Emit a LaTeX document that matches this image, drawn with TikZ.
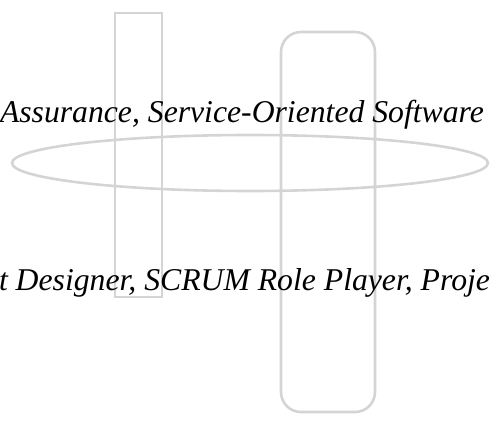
\documentclass[tikz,border=0pt]{standalone}
\usepackage{fontspec}
\setmainfont{Liberation Serif}
\usetikzlibrary{shapes.geometric}
\definecolor{lightline}{RGB}{212,212,212}
\tikzset{
  shapeline/.style={draw=lightline, line width=2.6pt, inner sep=0pt, outer sep=0pt},
  bigtext/.style={inner sep=0pt, outer sep=0pt, font=\fontsize{31.7}{31.7}\selectfont\itshape, text=black}
}
\begin{document}
\begin{tikzpicture}[x=1pt,y=-1pt]
\useasboundingbox (0,0) rectangle (491,423);
\clip (0,0) rectangle (491,423);
\node[shapeline, rectangle, minimum width=47pt, minimum height=284pt] (bar) at (138.5,155) {};
\node[shapeline, rectangle, rounded corners=20pt, minimum width=94pt, minimum height=380pt] (pill) at (328,222) {};
\node[shapeline, ellipse, minimum width=476pt, minimum height=56pt] (oval) at (250,163) {};
\node[bigtext, anchor=base west] (top) at (0,122) {Assurance, Service-Oriented Software};
\node[bigtext, anchor=base west] (bottom) at (-1,290) {t Designer, SCRUM Role Player, Proje};
\end{tikzpicture}
\end{document}
